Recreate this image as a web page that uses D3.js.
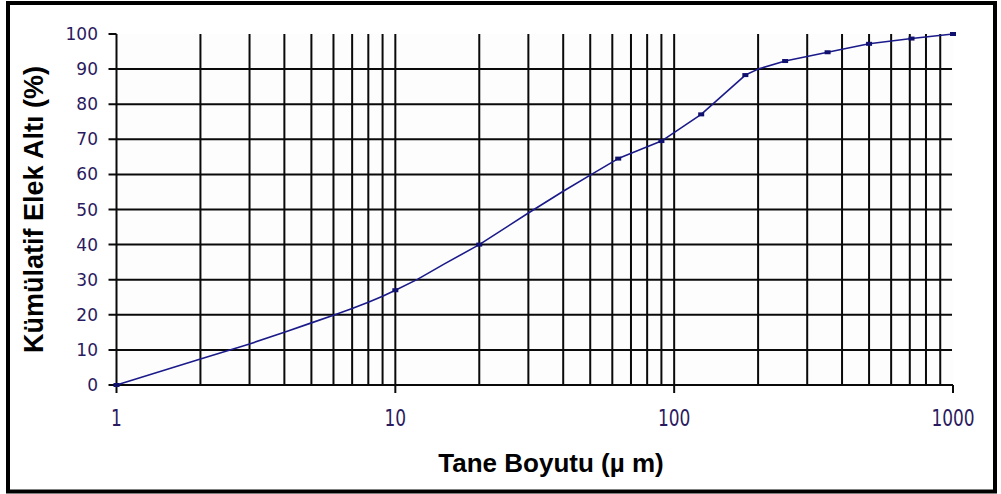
<!DOCTYPE html>
<html>
<head>
<meta charset="utf-8">
<script src="https://cdn.jsdelivr.net/npm/d3@7"></script>
<style>
  body { margin: 0; background: #fff; }
  svg { display: block; }
</style>
</head>
<body>
<svg width="1001" height="494"></svg>
<script>
// particle size (um) and cumulative passing (%)
var sizes   = [1, 2, 3, 4, 5, 6, 7, 8, 9, 10, 12, 15, 20, 30, 40, 50, 63, 90, 125, 180, 200, 250, 355, 500, 710, 1000];
var passing = [0, 7.4, 11.7, 15, 17.7, 19.9, 21.8, 23.6, 25.3, 27, 30.1, 34.5, 40, 49, 55.2, 59.8, 64.5, 69.5, 77.1, 88.3, 90, 92.3, 94.8, 97.2, 98.7, 100];
var markerSizes = [1, 10, 20, 63, 90, 125, 180, 250, 355, 500, 710, 1000];

var xMajor = [1, 10, 100, 1000];
var xMinor = [2, 3, 4, 5, 6, 7, 8, 9, 20, 30, 40, 50, 60, 70, 80, 90, 200, 300, 400, 500, 600, 700, 800, 900];
var yTicks = [0, 10, 20, 30, 40, 50, 60, 70, 80, 90, 100];

var data = sizes.map(function(s, i) { return {size: s, val: passing[i]}; });

var svg = d3.select("svg");

// outer frame
svg.append("rect")
    .attr("x", 8).attr("y", 3)
    .attr("width", 987).attr("height", 488.5)
    .attr("fill", "#fff")
    .attr("stroke", "#000")
    .attr("stroke-width", 4);

var x = d3.scaleLog().domain([1, 1000]).range([116.5, 953]);
var y = d3.scaleLinear().domain([0, 100]).range([385, 34]);

svg.append("rect")
    .attr("x", x(1)).attr("y", y(100))
    .attr("width", x(1000) - x(1)).attr("height", y(0) - y(100))
    .attr("fill", "#fdfdfd");

var grid = svg.append("g").attr("stroke", "#0a0a0a").attr("stroke-width", 2);

// horizontal grid lines (incl. tick stubs on the left)
grid.selectAll(".hgrid")
  .data(yTicks.filter(function(d) { return d > 0 && d < 100; }))
  .enter().append("line")
    .attr("x1", x(1) - 8).attr("x2", x(1000) - 1)
    .attr("y1", function(d) { return y(d); })
    .attr("y2", function(d) { return y(d); });

// vertical minor lines
grid.selectAll(".vminor")
  .data(xMinor)
  .enter().append("line")
    .attr("x1", function(d) { return x(d); })
    .attr("x2", function(d) { return x(d); })
    .attr("y1", y(0)).attr("y2", y(100));

// vertical major lines at 10 and 100 with tick stubs
grid.selectAll(".vmajor")
  .data([10, 100])
  .enter().append("line")
    .attr("x1", function(d) { return x(d); })
    .attr("x2", function(d) { return x(d); })
    .attr("y1", y(0) + 8).attr("y2", y(100));

// axes
grid.append("line")
    .attr("x1", x(1)).attr("x2", x(1))
    .attr("y1", y(0) + 8).attr("y2", y(100));
grid.append("line")
    .attr("x1", x(1) - 8).attr("x2", x(1000))
    .attr("y1", y(0)).attr("y2", y(0));
grid.append("line")
    .attr("x1", x(1) - 8).attr("x2", x(1))
    .attr("y1", y(100)).attr("y2", y(100));
grid.append("line")
    .attr("x1", x(1000)).attr("x2", x(1000))
    .attr("y1", y(0)).attr("y2", y(0) + 8);

// tick labels
svg.selectAll(".ylab")
  .data(yTicks)
  .enter().append("text")
    .attr("x", 98)
    .attr("y", function(d) { return y(d) + 6; })
    .attr("text-anchor", "end")
    .attr("font-family", "DejaVu Sans")
    .attr("font-size", 17)
    .attr("fill", "#2b1a5e")
    .text(function(d) { return d; });

svg.selectAll(".xlab")
  .data(xMajor)
  .enter().append("text")
    .attr("transform", function(d) { return "translate(" + x(d) + ",426) scale(1,1.35)"; })
    .attr("text-anchor", "middle")
    .attr("font-family", "DejaVu Sans")
    .attr("font-size", 17)
    .attr("fill", "#2b1a5e")
    .text(function(d) { return d; });

// curve
var line = d3.line()
    .x(function(d) { return x(d.size); })
    .y(function(d) { return y(d.val); });

svg.append("path")
    .datum(data)
    .attr("fill", "none")
    .attr("stroke", "#1a1a8a")
    .attr("stroke-width", 1.6)
    .attr("stroke-linejoin", "round")
    .attr("d", line);

svg.selectAll(".mark")
  .data(data.filter(function(d) { return markerSizes.indexOf(d.size) >= 0; }))
  .enter().append("rect")
    .attr("x", function(d) { return x(d.size) - 3; })
    .attr("y", function(d) { return y(d.val) - 2; })
    .attr("width", 6).attr("height", 4)
    .attr("fill", "#10106e");

// axis titles
svg.append("text")
    .attr("transform", "translate(43," + ((y(0) + y(100)) / 2) + ") rotate(-90)")
    .attr("text-anchor", "middle")
    .attr("font-family", "Liberation Sans, Arial, sans-serif")
    .attr("font-weight", "bold")
    .attr("font-size", 27)
    .attr("fill", "#000")
    .text("Kümülatif Elek Altı (%)");

svg.append("text")
    .attr("x", 551).attr("y", 472)
    .attr("text-anchor", "middle")
    .attr("font-family", "Liberation Sans, Arial, sans-serif")
    .attr("font-weight", "bold")
    .attr("font-size", 26)
    .attr("fill", "#000")
    .text("Tane Boyutu (µ m)");
</script>
</body>
</html>
